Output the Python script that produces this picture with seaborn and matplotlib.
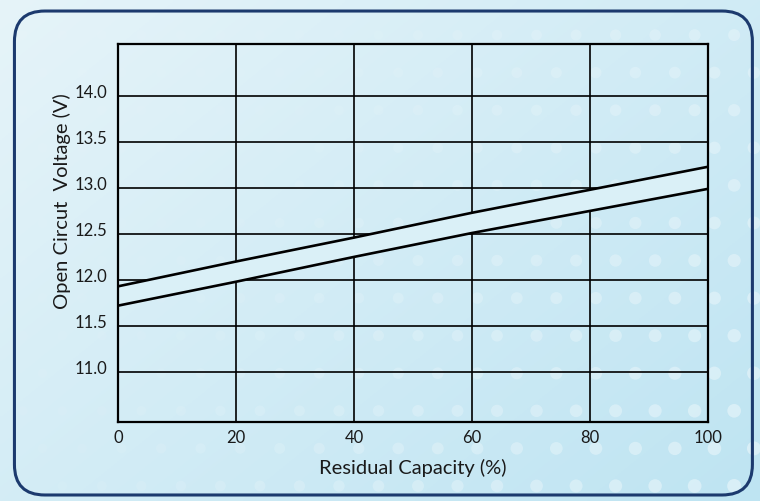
import numpy as np
import pandas as pd
import matplotlib.pyplot as plt
import seaborn as sns
from matplotlib.patches import FancyBboxPatch, Ellipse
from matplotlib.transforms import ScaledTranslation

# chart data
capacity = [0, 20, 40, 60, 80, 100]
voltage_upper = [11.93, 12.20, 12.46, 12.73, 12.98, 13.23]
voltage_lower = [11.72, 11.98, 12.25, 12.51, 12.75, 12.99]
y_ticks = [11.0, 11.5, 12.0, 12.5, 13.0, 13.5, 14.0]
x_ticks = [0, 20, 40, 60, 80, 100]

df = pd.DataFrame({
    "capacity": capacity * 2,
    "voltage": voltage_upper + voltage_lower,
    "curve": ["upper"] * len(capacity) + ["lower"] * len(capacity),
})

sns.set_style("white")
plt.rcParams["font.family"] = ["Lato", "DejaVu Sans"]

fig = plt.figure(figsize=(7.6, 5.01), dpi=100)

# light blue panel background with faint dots
bg = fig.add_axes([0, 0, 1, 1], zorder=0)
gx, gy = np.meshgrid(np.linspace(0, 1, 300), np.linspace(0, 1, 200))
t = np.clip(0.55 * gx + 0.45 * gy, 0, 1)
c0 = np.array([230, 244, 249]) / 255
c1 = np.array([190, 228, 242]) / 255
img = c0[None, None, :] * (1 - t[..., None]) + c1[None, None, :] * t[..., None]
bg.imshow(img, extent=[0, 1, 0, 1], aspect="auto", origin="upper")
aspect = 501 / 760
for xx in np.arange(0.03, 1.0, 0.052):
    for j, yy in enumerate(np.arange(0.03, 1.0, 0.075)):
        off = 0.026 if j % 2 else 0
        a = 0.05 + 0.45 * np.clip((xx + off) * 0.9 + (1 - yy) * 0.4 - 0.45, 0, 1)
        r = 0.009 + 0.012 * a
        bg.add_patch(Ellipse((xx + off, yy), 2 * r * aspect, 2 * r,
                             color="white", alpha=a, lw=0))
bg.add_patch(FancyBboxPatch((0.019, 0.012), 0.971, 0.966,
                            boxstyle="round,pad=0,rounding_size=0.04",
                            fc="none", ec="#1c3a6e", lw=2.2,
                            mutation_aspect=760 / 501))
bg.set_xlim(0, 1)
bg.set_ylim(0, 1)
bg.axis("off")

ax = fig.add_axes([0.1553, 0.1577, 0.7763, 0.7545], zorder=1)
ax.patch.set_alpha(0)

ax.fill_between(capacity, voltage_lower, voltage_upper, color="#daf0f7",
                lw=0, zorder=3)
sns.lineplot(data=df, x="capacity", y="voltage", units="curve",
             estimator=None, color="black", lw=1.9, ax=ax, zorder=4)

ax.set_xlim(0, 100)
ax.set_ylim(10.455, 14.565)
ax.set_xticks(x_ticks)
ax.set_yticks(y_ticks)
ax.set_yticklabels([f"{v:.1f}" for v in y_ticks])
ax.grid(True, color="black", lw=1.2)
ax.set_axisbelow(True)
for s in ax.spines.values():
    s.set_visible(True)
    s.set_color("black")
    s.set_linewidth(1.6)
    s.set_zorder(5)
ax.tick_params(axis="both", length=0, labelsize=12, colors="#1a1a1a")
ax.tick_params(axis="x", pad=6)
ax.tick_params(axis="y", pad=8)
for lab in ax.get_yticklabels():
    lab.set_transform(lab.get_transform() + ScaledTranslation(0, 3 / 72, fig.dpi_scale_trans))

ax.set_xlabel("Residual Capacity (%)", fontsize=14.5, color="#1a1a1a")
ax.set_ylabel("Open Circut  Voltage (V)", fontsize=14.5, color="#1a1a1a")
ax.xaxis.set_label_coords(0.5, -0.098)
ax.yaxis.set_label_coords(-0.079, 0.585)

fig.savefig("out.png", dpi=100)
